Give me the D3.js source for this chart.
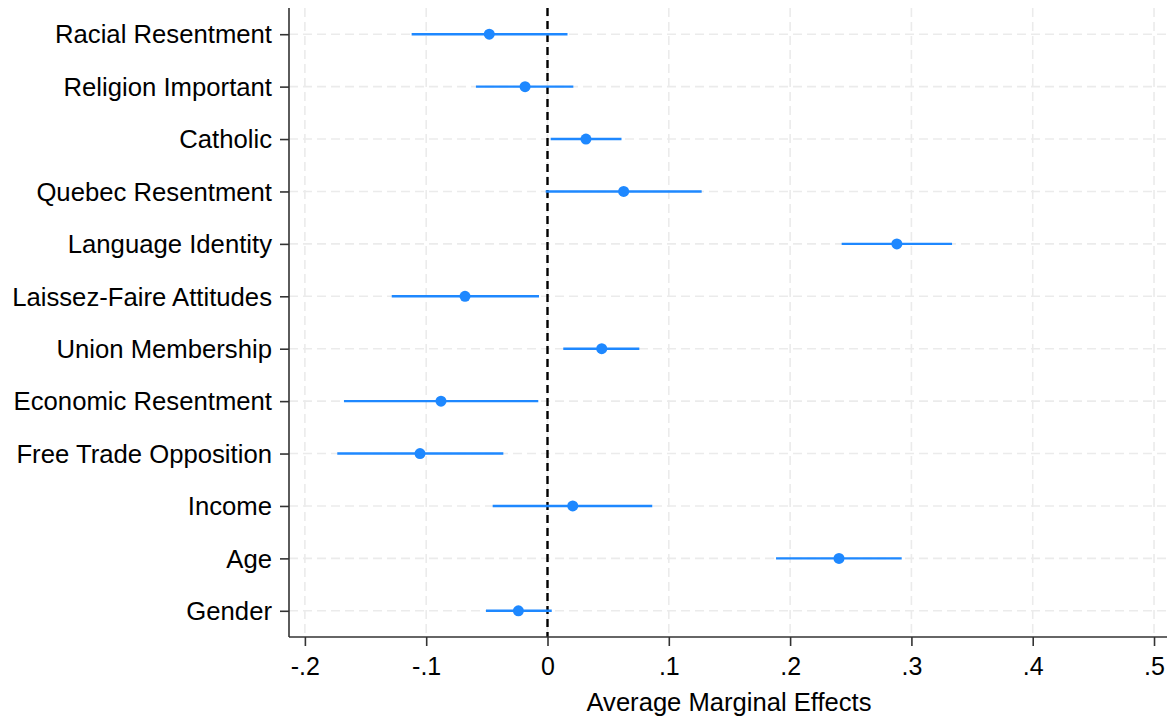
<!DOCTYPE html>
<html>
<head>
<meta charset="utf-8">
<script src="https://cdn.jsdelivr.net/npm/d3@7"></script>
<style>
  html, body { margin: 0; padding: 0; background: #fff; }
  svg { display: block; font-family: "Liberation Sans", Arial, Helvetica, sans-serif; }
</style>
</head>
<body>
<svg id="chart" width="1167" height="719"></svg>
<script>
// Average marginal effects with 95% confidence intervals
const variables = [
  "Racial Resentment", "Religion Important", "Catholic", "Quebec Resentment",
  "Language Identity", "Laissez-Faire Attitudes", "Union Membership",
  "Economic Resentment", "Free Trade Opposition", "Income", "Age", "Gender"
];
const estimates = [-0.048, -0.0185, 0.0317, 0.0628, 0.288, -0.068, 0.0447, -0.0878, -0.1051, 0.0208, 0.2403, -0.024];
const lowerCI   = [-0.112, -0.059, 0.0026, -0.0015, 0.2425, -0.1284, 0.013, -0.1678, -0.1733, -0.0452, 0.1884, -0.0507];
const upperCI   = [0.0165, 0.0213, 0.061, 0.1271, 0.3335, -0.007, 0.0757, -0.0076, -0.0364, 0.0864, 0.292, 0.0035];
const xTicks = [-0.2, -0.1, 0, 0.1, 0.2, 0.3, 0.4, 0.5];
const xTitle = "Average Marginal Effects";

const svg = d3.select("#chart");
const plotLeft = 289, plotRight = 1167, plotTop = 8, plotBottom = 637;

const x = d3.scaleLinear().domain([-0.2131, 0.5107]).range([plotLeft, plotRight]);
const y = d3.scalePoint().domain(variables).range([plotTop, plotBottom]).padding(0.5);

// Stata-style labels: "-.2", "0", ".1"
const fmt = v => v === 0 ? "0" : d3.format(".1f")(v).replace("0.", ".").replace("\u2212", "-");

// grid
const grid = svg.append("g");
grid.selectAll("line.v").data(xTicks).join("line")
  .attr("class", "v")
  .attr("x1", d => x(d)).attr("x2", d => x(d))
  .attr("y1", plotTop).attr("y2", plotBottom)
  .attr("stroke", "#ebebeb").attr("stroke-width", 1.6)
  .attr("stroke-dasharray", "9,5");
grid.selectAll("line.h").data(variables).join("line")
  .attr("class", "h")
  .attr("x1", plotLeft).attr("x2", plotRight)
  .attr("y1", d => y(d)).attr("y2", d => y(d))
  .attr("stroke", "#ebebeb").attr("stroke-width", 1.6)
  .attr("stroke-dasharray", "9,5");

// zero reference line
svg.append("line")
  .attr("x1", x(0)).attr("x2", x(0))
  .attr("y1", plotTop).attr("y2", plotBottom)
  .attr("stroke", "#000").attr("stroke-width", 2.4)
  .attr("stroke-dasharray", "8,5");

// axes
const xAxis = d3.axisBottom(x).tickValues(xTicks).tickFormat(fmt).tickSize(9).tickPadding(11);
const gx = svg.append("g").attr("transform", `translate(0,${plotBottom})`).call(xAxis);
gx.select(".domain").remove();
gx.append("line").attr("x1", plotLeft).attr("x2", plotRight).attr("y1", 0).attr("y2", 0)
  .attr("stroke", "#333").attr("stroke-width", 1.6);
gx.selectAll(".tick line").attr("stroke", "#333").attr("stroke-width", 1.6);
gx.selectAll(".tick text").attr("fill", "#000").style("font-size", "25px");

const yAxis = d3.axisLeft(y).tickSize(9).tickPadding(8);
const gy = svg.append("g").attr("transform", `translate(${plotLeft},0)`).call(yAxis);
gy.select(".domain").remove();
gy.append("line").attr("x1", 0).attr("x2", 0).attr("y1", plotTop).attr("y2", plotBottom)
  .attr("stroke", "#333").attr("stroke-width", 1.6);
gy.selectAll(".tick line").attr("stroke", "#333").attr("stroke-width", 1.6);
gy.selectAll(".tick text").attr("fill", "#000").attr("dy", "0.34em").style("font-size", "25.7px");

svg.append("text")
  .attr("x", (586 + 872) / 2).attr("y", 711)
  .attr("text-anchor", "middle").attr("fill", "#000")
  .style("font-size", "25.6px")
  .text(xTitle);

// confidence intervals and point estimates
const rows = variables.map((v, i) => ({ v, est: estimates[i], lo: lowerCI[i], hi: upperCI[i] }));
const blue = "#1e88ff";
svg.append("g").selectAll("line").data(rows).join("line")
  .attr("x1", d => x(d.lo)).attr("x2", d => x(d.hi))
  .attr("y1", d => y(d.v)).attr("y2", d => y(d.v))
  .attr("stroke", blue).attr("stroke-width", 2.4);
svg.append("g").selectAll("circle").data(rows).join("circle")
  .attr("cx", d => x(d.est)).attr("cy", d => y(d.v)).attr("r", 5.5)
  .attr("fill", blue);
</script>
</body>
</html>
